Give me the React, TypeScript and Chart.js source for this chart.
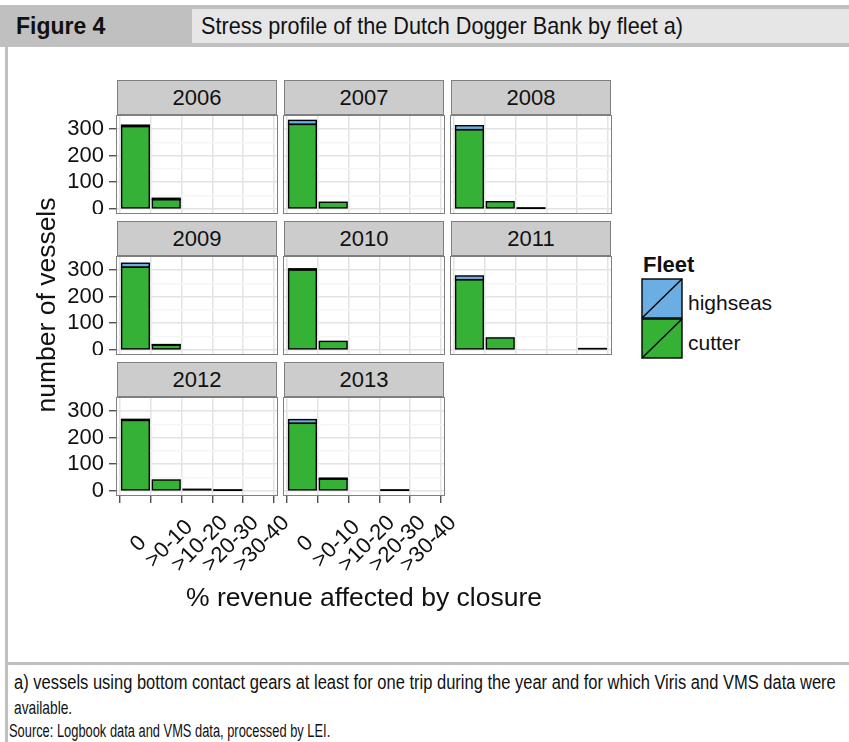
import React, { useEffect, useLayoutEffect, useRef, useState } from "react";
import { Chart, registerables } from "chart.js";

Chart.register(...registerables);

// ---------- data ----------
const CATEGORIES = ["0", ">0-10", ">10-20", ">20-30", ">30-40"];
const YEARS = ["2006", "2007", "2008", "2009", "2010", "2011", "2012", "2013"];
const FLEETS = ["highseas", "cutter"];

const CUTTER_2006 = [310, 34, null, null, null];
const CUTTER_2007 = [318, 24, null, null, null];
const CUTTER_2008 = [298, 26, 1, null, null];
const CUTTER_2009 = [311, 17, null, null, null];
const CUTTER_2010 = [301, 31, null, null, null];
const CUTTER_2011 = [264, 44, null, null, 4];
const CUTTER_2012 = [265, 40, 5, 1, null];
const CUTTER_2013 = [254, 43, null, 1, null];

const HIGHSEAS_2006 = [5, 5, null, null, null];
const HIGHSEAS_2007 = [15, null, null, null, null];
const HIGHSEAS_2008 = [15, null, null, null, null];
const HIGHSEAS_2009 = [15, 2, null, null, null];
const HIGHSEAS_2010 = [4, null, null, null, null];
const HIGHSEAS_2011 = [14, null, null, null, null];
const HIGHSEAS_2012 = [4, null, null, null, null];
const HIGHSEAS_2013 = [14, 4, null, null, null];

const CUTTER = [CUTTER_2006, CUTTER_2007, CUTTER_2008, CUTTER_2009, CUTTER_2010, CUTTER_2011, CUTTER_2012, CUTTER_2013];
const HIGHSEAS = [HIGHSEAS_2006, HIGHSEAS_2007, HIGHSEAS_2008, HIGHSEAS_2009, HIGHSEAS_2010, HIGHSEAS_2011, HIGHSEAS_2012, HIGHSEAS_2013];

const Y_TICKS = [0, 100, 200, 300];
const Y_MINOR = [50, 150, 250];
const Y_MIN = -16.6;
const Y_MAX = 349.6;

// ---------- style ----------
const GREEN = "#35B236";
const BLUE = "#6AAEE4";
const SANS = '"Liberation Sans", Arial, Helvetica, sans-serif';
const GRID_MAJOR = "#e3e3e3";
const GRID_MINOR = "#f5f5f5";
const TICK_COLOR = "#333333";
const PANEL_BORDER = "#7f7f7f";

const COL_X = [117, 284, 451];
const ROW_PLOT_TOP = [116, 257, 398];
const PLOT_W = 160;
const PLOT_H = 97;
const STRIP_H = 35;
const Y_AXIS_W = 60;
const X_AXIS_H = 90;
const X_EXTRA_R = 45;

const outlinePlugin = {
  id: "barOutline",
  afterDatasetsDraw(chart: any) {
    const ctx = chart.ctx;
    ctx.save();
    ctx.strokeStyle = "#000";
    ctx.lineWidth = 1.4;
    chart.data.datasets.forEach((ds: any, di: number) => {
      const meta = chart.getDatasetMeta(di);
      meta.data.forEach((el: any, i: number) => {
        const v = ds.data[i] && ds.data[i].y;
        if (v === null || v === undefined) return;
        const p = el.getProps(["x", "y", "base", "width"], true);
        if (!isFinite(p.y) || !isFinite(p.base)) return;
        const top = Math.min(p.y, p.base);
        const h = Math.abs(p.base - p.y);
        ctx.strokeRect(p.x - p.width / 2, top, p.width, h);
      });
    });
    ctx.restore();
  },
};

const borderPlugin = {
  id: "panelBorder",
  afterDraw(chart: any) {
    const { ctx, chartArea } = chart;
    ctx.save();
    ctx.strokeStyle = PANEL_BORDER;
    ctx.lineWidth = 1;
    ctx.strokeRect(chartArea.left - 0.5, chartArea.top - 0.5, chartArea.right - chartArea.left + 1, chartArea.bottom - chartArea.top + 1);
    ctx.restore();
  },
};

function makeXLabelPlugin(hasX: boolean) {
  return {
    id: "xLabels",
    afterDraw(chart: any) {
      if (!hasX) return;
      const { ctx, chartArea } = chart;
      const xs = chart.scales.x;
      ctx.save();
      ctx.fillStyle = "#111";
      ctx.font = `22px ${SANS}`;
      ctx.textAlign = "center";
      ctx.textBaseline = "middle";
      CATEGORIES.forEach((lab, i) => {
        const px = xs.getPixelForValue(i + 1);
        ctx.save();
        ctx.translate(px + 3, chartArea.bottom + 49);
        ctx.rotate(-Math.PI / 4);
        ctx.fillText(lab, 0, 0);
        ctx.restore();
      });
      ctx.restore();
    },
  };
}

function zeroPad(s: any) {
  s.paddingTop = 0;
  s.paddingBottom = 0;
  s.paddingLeft = 0;
  s.paddingRight = 0;
}

function Panel({ idx, row, col, hasY, hasX }: { idx: number; row: number; col: number; hasY: boolean; hasX: boolean }) {
  const ref = useRef<HTMLCanvasElement>(null);
  const padR = 1 + (hasX ? X_EXTRA_R : 0);
  const left = COL_X[col] - (hasY ? Y_AXIS_W : 1);
  const top = ROW_PLOT_TOP[row] - 1;
  const width = PLOT_W + (hasY ? Y_AXIS_W : 1) + padR;
  const height = PLOT_H + 1 + (hasX ? X_AXIS_H : 1);

  useEffect(() => {
    const toPts = (arr: (number | null)[]) => arr.map((v, i) => ({ x: i + 1, y: v }));
    const isMajor = (v: number) => Y_TICKS.includes(v);
    const chart = new Chart(ref.current as HTMLCanvasElement, {
      type: "bar",
      data: {
        datasets: [
          { label: FLEETS[1], data: toPts(CUTTER[idx]) as any, backgroundColor: GREEN, borderWidth: 0 },
          { label: FLEETS[0], data: toPts(HIGHSEAS[idx]) as any, backgroundColor: BLUE, borderWidth: 0 },
        ],
      },
      options: {
        responsive: false,
        animation: false,
        events: [],
        layout: { padding: { top: 1, right: padR, left: hasY ? 0 : 1, bottom: hasX ? 0 : 1 } },
        plugins: { legend: { display: false }, tooltip: { enabled: false }, title: { display: false } },
        datasets: { bar: { barPercentage: 0.9, categoryPercentage: 1 } } as any,
        scales: {
          x: {
            type: "linear",
            stacked: true,
            min: 0.4,
            max: 5.6,
            offset: false,
            afterBuildTicks: (s: any) => {
              s.ticks = CATEGORIES.map((_, i) => ({ value: i + 1 }));
            },
            afterFit: (s: any) => {
              s.height = hasX ? X_AXIS_H : 0;
              zeroPad(s);
            },
            ticks: { display: false, autoSkip: false },
            grid: { color: GRID_MAJOR, lineWidth: 1.5, drawTicks: hasX, tickLength: 8, tickColor: TICK_COLOR, tickWidth: 1.2 } as any,
            border: { display: false },
          },
          y: {
            type: "linear",
            stacked: true,
            min: Y_MIN,
            max: Y_MAX,
            afterBuildTicks: (s: any) => {
              s.ticks = [...Y_TICKS, ...Y_MINOR].sort((a, b) => a - b).map((v) => ({ value: v }));
            },
            afterFit: (s: any) => {
              s.width = hasY ? Y_AXIS_W : 0;
              zeroPad(s);
            },
            ticks: {
              display: hasY,
              autoSkip: false,
              padding: 5,
              color: "#111",
              font: { family: SANS, size: 22 },
              callback: (v: any) => (isMajor(Number(v)) ? String(v) : ""),
            },
            grid: {
              color: (c: any) => (c.tick && isMajor(c.tick.value) ? GRID_MAJOR : GRID_MINOR),
              lineWidth: 1.5,
              drawTicks: hasY,
              tickLength: 8,
              tickWidth: 1.2,
              tickColor: (c: any) => (c.tick && isMajor(c.tick.value) ? TICK_COLOR : "rgba(0,0,0,0)"),
            } as any,
            border: { display: false },
          },
        },
      },
      plugins: [outlinePlugin, borderPlugin, makeXLabelPlugin(hasX)],
    });
    return () => chart.destroy();
  }, []);

  return (
    <>
      <div
        style={{
          position: "absolute",
          left: COL_X[col],
          top: ROW_PLOT_TOP[row] - STRIP_H - 1,
          width: PLOT_W,
          height: STRIP_H,
          boxSizing: "border-box",
          background: "#cccccc",
          border: `1px solid ${PANEL_BORDER}`,
          font: `22px ${SANS}`,
          color: "#111",
          display: "flex",
          alignItems: "center",
          justifyContent: "center",
        }}
      >
        {YEARS[idx]}
      </div>
      <canvas ref={ref} width={width} height={height} style={{ position: "absolute", left, top, width, height }} />
    </>
  );
}

function FitText({ text, left, top, width, font, lineHeight }: { text: string; left: number; top: number; width: number; font: string; lineHeight: number }) {
  const ref = useRef<HTMLSpanElement>(null);
  const [sx, setSx] = useState(1);
  useLayoutEffect(() => {
    const w = ref.current ? ref.current.offsetWidth : 0;
    if (w > 0) setSx(width / w);
  }, []);
  return (
    <span
      ref={ref}
      style={{
        position: "absolute",
        left,
        top,
        display: "inline-block",
        whiteSpace: "nowrap",
        font,
        lineHeight: `${lineHeight}px`,
        color: "#111",
        transformOrigin: "0 50%",
        transform: `scaleX(${sx})`,
      }}
    >
      {text}
    </span>
  );
}

function LegendKey({ color }: { color: string }) {
  return (
    <svg width={42} height={41} style={{ display: "block" }}>
      <rect x={1} y={1} width={40} height={39} fill={color} stroke="#000" strokeWidth={1.4} />
      <line x1={1} y1={40} x2={41} y2={1} stroke="#000" strokeWidth={1.4} />
    </svg>
  );
}

export default function App() {
  const panels = YEARS.map((_, i) => {
    const row = Math.floor(i / 3);
    const col = i % 3;
    const hasY = col === 0;
    const hasX = row === 2;
    return <Panel key={i} idx={i} row={row} col={col} hasY={hasY} hasX={hasX} />;
  });

  return (
    <div style={{ position: "absolute", left: 0, top: 0, width: 849, height: 742, background: "#fff", overflow: "hidden" }}>
      {/* header */}
      <div style={{ position: "absolute", left: 0, top: 5, width: 849, height: 42, background: "#c0c0c0" }} />
      <div style={{ position: "absolute", left: 192, top: 9, width: 657, height: 34, background: "#e6e6e6" }} />
      <FitText text="Figure 4" left={16} top={10} width={89} font={`bold 24px ${SANS}`} lineHeight={32} />
      <FitText text="Stress profile of the Dutch Dogger Bank by fleet a)" left={201} top={10} width={482} font={`24px ${SANS}`} lineHeight={32} />

      {/* frame */}
      <div style={{ position: "absolute", left: 5, top: 47, width: 3, height: 695, background: "#c0c0c0" }} />
      <div style={{ position: "absolute", left: 5, top: 662, width: 844, height: 3, background: "#c0c0c0" }} />

      {panels}

      {/* axis titles */}
      <div
        style={{
          position: "absolute",
          left: 47 - 150,
          top: 305 - 16,
          width: 300,
          height: 32,
          lineHeight: "32px",
          textAlign: "center",
          transform: "rotate(-90deg)",
          font: `26.5px ${SANS}`,
          color: "#111",
          whiteSpace: "nowrap",
        }}
      >
        number of vessels
      </div>
      <div
        style={{
          position: "absolute",
          left: 364 - 250,
          top: 582,
          width: 500,
          height: 32,
          lineHeight: "32px",
          textAlign: "center",
          font: `26.5px ${SANS}`,
          color: "#111",
          whiteSpace: "nowrap",
        }}
      >
        % revenue affected by closure
      </div>

      {/* legend */}
      <div style={{ position: "absolute", left: 643, top: 252, font: `bold 22px ${SANS}`, color: "#111", lineHeight: "26px" }}>Fleet</div>
      <div style={{ position: "absolute", left: 641, top: 278 }}>
        <LegendKey color={BLUE} />
      </div>
      <div style={{ position: "absolute", left: 641, top: 318 }}>
        <LegendKey color={GREEN} />
      </div>
      <div style={{ position: "absolute", left: 688, top: 290, font: `21px ${SANS}`, color: "#111", lineHeight: "26px" }}>{FLEETS[0]}</div>
      <div style={{ position: "absolute", left: 688, top: 330, font: `21px ${SANS}`, color: "#111", lineHeight: "26px" }}>{FLEETS[1]}</div>

      {/* footnotes */}
      <FitText
        text="a) vessels using bottom contact gears at least for one trip during the year and for which Viris and VMS data were"
        left={14}
        top={670}
        width={822}
        font={`20px ${SANS}`}
        lineHeight={25}
      />
      <FitText text="available." left={14} top={695} width={58} font={`19px ${SANS}`} lineHeight={25} />
      <FitText text="Source: Logbook data and VMS data, processed by LEI." left={9} top={719} width={321} font={`18px ${SANS}`} lineHeight={25} />
    </div>
  );
}
